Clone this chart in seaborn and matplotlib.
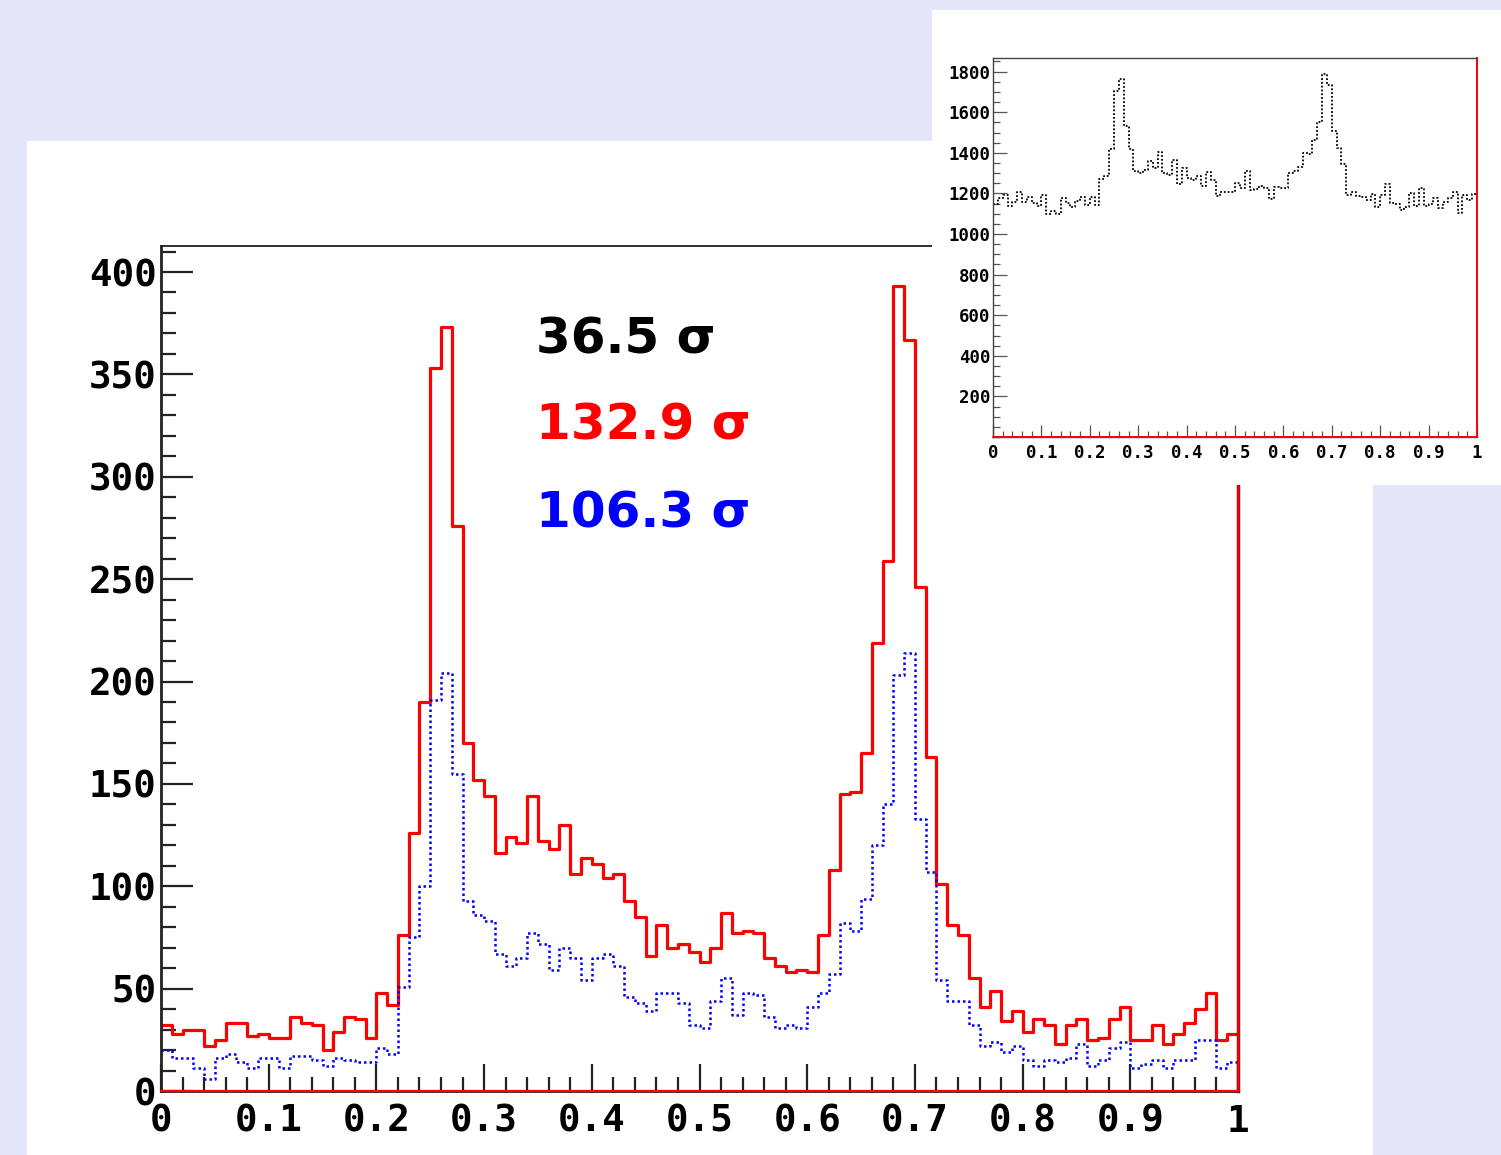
import numpy as np
import matplotlib
matplotlib.use("Agg")
import matplotlib.pyplot as plt
from matplotlib.patches import Rectangle
from matplotlib.ticker import MultipleLocator, FixedLocator, FixedFormatter
import seaborn as sns

# ---------------- data (100 bins on [0, 1]) ----------------
bin_lo = 0.0
bin_hi = 1.0
n_bins = 100

red_counts = [32, 28, 30, 30, 22, 25, 33, 33, 27, 28,
              26, 26, 36, 33, 32, 20, 29, 36, 35, 26,
              48, 42, 76, 126, 190, 353, 373, 276, 170, 152,
              144, 116, 124, 121, 144, 122, 118, 130, 106, 114,
              111, 104, 106, 93, 85, 66, 81, 70, 72, 68,
              63, 70, 87, 77, 78, 77, 65, 61, 58, 59,
              58, 76, 108, 145, 146, 165, 219, 259, 393, 367,
              246, 163, 101, 81, 76, 55, 41, 49, 34, 39,
              29, 35, 32, 23, 32, 35, 25, 26, 35, 41,
              25, 25, 32, 23, 28, 33, 40, 48, 25, 28]

blue_counts = [20, 16, 16, 11, 6, 16, 18, 14, 11, 16,
               16, 11, 17, 17, 15, 12, 16, 15, 14, 14,
               21, 18, 51, 75, 100, 191, 204, 155, 93, 86,
               83, 67, 61, 65, 77, 72, 59, 70, 65, 54,
               65, 67, 61, 46, 43, 39, 48, 48, 43, 32,
               31, 44, 55, 37, 48, 47, 36, 31, 32, 31,
               41, 48, 57, 82, 78, 94, 120, 140, 203, 214,
               133, 107, 54, 44, 44, 32, 22, 24, 19, 22,
               15, 12, 15, 14, 16, 23, 12, 15, 21, 24,
               11, 13, 15, 11, 15, 15, 25, 25, 11, 14]

inset_counts = [1148, 1176, 1192, 1138, 1159, 1209, 1159, 1184, 1154, 1138,
                1192, 1098, 1115, 1098, 1176, 1154, 1131, 1164, 1181, 1143,
                1184, 1143, 1270, 1286, 1420, 1706, 1762, 1534, 1417, 1312,
                1302, 1315, 1361, 1323, 1406, 1299, 1291, 1365, 1246, 1323,
                1274, 1268, 1286, 1236, 1307, 1268, 1187, 1205, 1208, 1208,
                1253, 1225, 1312, 1217, 1220, 1236, 1225, 1171, 1230, 1225,
                1225, 1299, 1312, 1328, 1397, 1393, 1463, 1553, 1788, 1734,
                1509, 1422, 1345, 1192, 1209, 1187, 1184, 1167, 1197, 1135,
                1192, 1246, 1154, 1148, 1118, 1135, 1200, 1138, 1225, 1138,
                1150, 1175, 1126, 1159, 1175, 1209, 1103, 1192, 1167, 1197]

x_tick_labels = ["0", "0.1", "0.2", "0.3", "0.4", "0.5", "0.6", "0.7", "0.8", "0.9", "1"]
main_y_ticks = [0, 50, 100, 150, 200, 250, 300, 350, 400]
inset_y_ticks = [200, 400, 600, 800, 1000, 1200, 1400, 1600, 1800]
significances = ["36.5 σ", "132.9 σ", "106.3 σ"]
sig_colors = ["black", "#ff0000", "#0000ff"]

# ---------------- style ----------------
sns.set_style("white")
plt.rcParams['font.family'] = ['DejaVu Sans', 'Liberation Sans']

W, H = 1501, 1155
fig = plt.figure(figsize=(W / 100, H / 100), dpi=100)
fig.patch.set_facecolor("#e6e6fa")

def fx(px):
    return px / W

def fy(py):
    return 1 - py / H

# white main panel
fig.patches.append(Rectangle((fx(27), 0), fx(1373) - fx(27), fy(141),
                             transform=fig.transFigure, facecolor="white",
                             edgecolor="none", zorder=-5))

centers = bin_lo + (np.arange(n_bins) + 0.5) * (bin_hi - bin_lo) / n_bins

# ---------------- main axes ----------------
ax = fig.add_axes([fx(161), fy(1091), fx(1238) - fx(161), fy(246) - fy(1091)])
ax.set_zorder(1)
ax.set_facecolor("white")

sns.histplot(x=centers, weights=red_counts, bins=n_bins, binrange=(bin_lo, bin_hi),
             element="step", fill=False, color="#ff0000", linewidth=2.3, ax=ax)
sns.histplot(x=centers, weights=blue_counts, bins=n_bins, binrange=(bin_lo, bin_hi),
             element="step", fill=False, color="#0000ff", linewidth=1.8,
             linestyle=(0, (1, 1.2)), ax=ax)

ax.set_xlim(0, 1)
ax.set_ylim(0, 412.7)
ax.set_xlabel("")
ax.set_ylabel("")

ax.xaxis.set_major_locator(FixedLocator(np.linspace(0, 1, 11)))
ax.xaxis.set_major_formatter(FixedFormatter(x_tick_labels))
ax.xaxis.set_minor_locator(MultipleLocator(0.02))
ax.yaxis.set_major_locator(FixedLocator(main_y_ticks))
ax.yaxis.set_major_formatter(FixedFormatter([str(v) for v in main_y_ticks]))
ax.yaxis.set_minor_locator(MultipleLocator(10))

ax.tick_params(axis="x", which="major", direction="in", length=19.5, width=1.6,
               color="#222222", labelcolor="black", pad=9, labelsize=27,
               bottom=True, top=False)
ax.tick_params(axis="x", which="minor", direction="in", length=10, width=1.6,
               color="#222222", bottom=True, top=False)
ax.tick_params(axis="y", which="major", direction="in", length=23, width=1.6,
               color="#222222", labelcolor="black", pad=3, labelsize=27,
               left=True, right=False)
ax.tick_params(axis="y", which="minor", direction="in", length=11, width=1.6,
               color="#222222", left=True, right=False)
for lab in ax.get_xticklabels() + ax.get_yticklabels():
    lab.set_fontfamily("DejaVu Sans Mono")
    lab.set_fontweight("bold")

for side in ["left", "bottom", "top", "right"]:
    ax.spines[side].set_visible(True)
    ax.spines[side].set_color("#222222")
ax.spines["left"].set_linewidth(2.0)
ax.spines["bottom"].set_linewidth(2.0)
ax.spines["top"].set_linewidth(1.3)
ax.spines["right"].set_linewidth(2.5)
ax.axhline(0, color="#ff0000", linewidth=1.6, zorder=5, clip_on=False)
ax.axvline(1, color="#ff0000", linewidth=1.8, zorder=5, clip_on=False)

# significance labels
baselines = [353, 440, 528]
for txt, col, b in zip(significances, sig_colors, baselines):
    fig.text(fx(536), fy(b), txt, color=col, fontsize=36, fontweight="bold",
             family="DejaVu Sans", ha="left", va="baseline", zorder=10)

# ---------------- inset ----------------
bg = fig.add_axes([fx(932), fy(485), fx(1501) - fx(932), fy(10) - fy(485)])
bg.set_zorder(2)
bg.set_facecolor("white")
bg.set_xticks([])
bg.set_yticks([])
for s in bg.spines.values():
    s.set_visible(False)

ax2 = fig.add_axes([fx(993), fy(437), fx(1477) - fx(993), fy(58) - fy(437)])
ax2.set_zorder(3)
ax2.set_facecolor("white")
sns.histplot(x=centers, weights=inset_counts, bins=n_bins, binrange=(bin_lo, bin_hi),
             element="step", fill=False, color="black", linewidth=1.3,
             linestyle=(0, (1, 1.1)), ax=ax2)
ax2.set_xlim(0, 1)
ax2.set_ylim(0, 1867)
ax2.set_xlabel("")
ax2.set_ylabel("")
ax2.xaxis.set_major_locator(FixedLocator(np.linspace(0, 1, 11)))
ax2.xaxis.set_major_formatter(FixedFormatter(x_tick_labels))
ax2.xaxis.set_minor_locator(MultipleLocator(0.02))
ax2.yaxis.set_major_locator(FixedLocator(inset_y_ticks))
ax2.yaxis.set_major_formatter(FixedFormatter([str(v) for v in inset_y_ticks]))
ax2.yaxis.set_minor_locator(MultipleLocator(50))
ax2.tick_params(axis="x", which="major", direction="in", length=8.4, width=0.9,
                color="#555555", labelcolor="black", pad=5, labelsize=12.5,
                bottom=True, top=False)
ax2.tick_params(axis="x", which="minor", direction="in", length=4.3, width=0.9,
                color="#555555", bottom=True, top=False)
ax2.tick_params(axis="y", which="major", direction="in", length=10, width=0.9,
                color="#555555", labelcolor="black", pad=2, labelsize=12.5,
                left=True, right=False)
ax2.tick_params(axis="y", which="minor", direction="in", length=5, width=0.9,
                color="#555555", left=True, right=False)
for lab in ax2.get_xticklabels() + ax2.get_yticklabels():
    lab.set_fontfamily("DejaVu Sans Mono")
    lab.set_fontweight("bold")
for side in ["left", "bottom", "top", "right"]:
    ax2.spines[side].set_visible(True)
    ax2.spines[side].set_color("#444444")
    ax2.spines[side].set_linewidth(1.0)
ax2.spines["right"].set_color("#ff0000")
ax2.spines["right"].set_linewidth(1.4)
ax2.axhline(0, color="#ff0000", linewidth=1.4, zorder=5, clip_on=False)

fig.savefig("out.png", dpi=100, facecolor=fig.get_facecolor())
